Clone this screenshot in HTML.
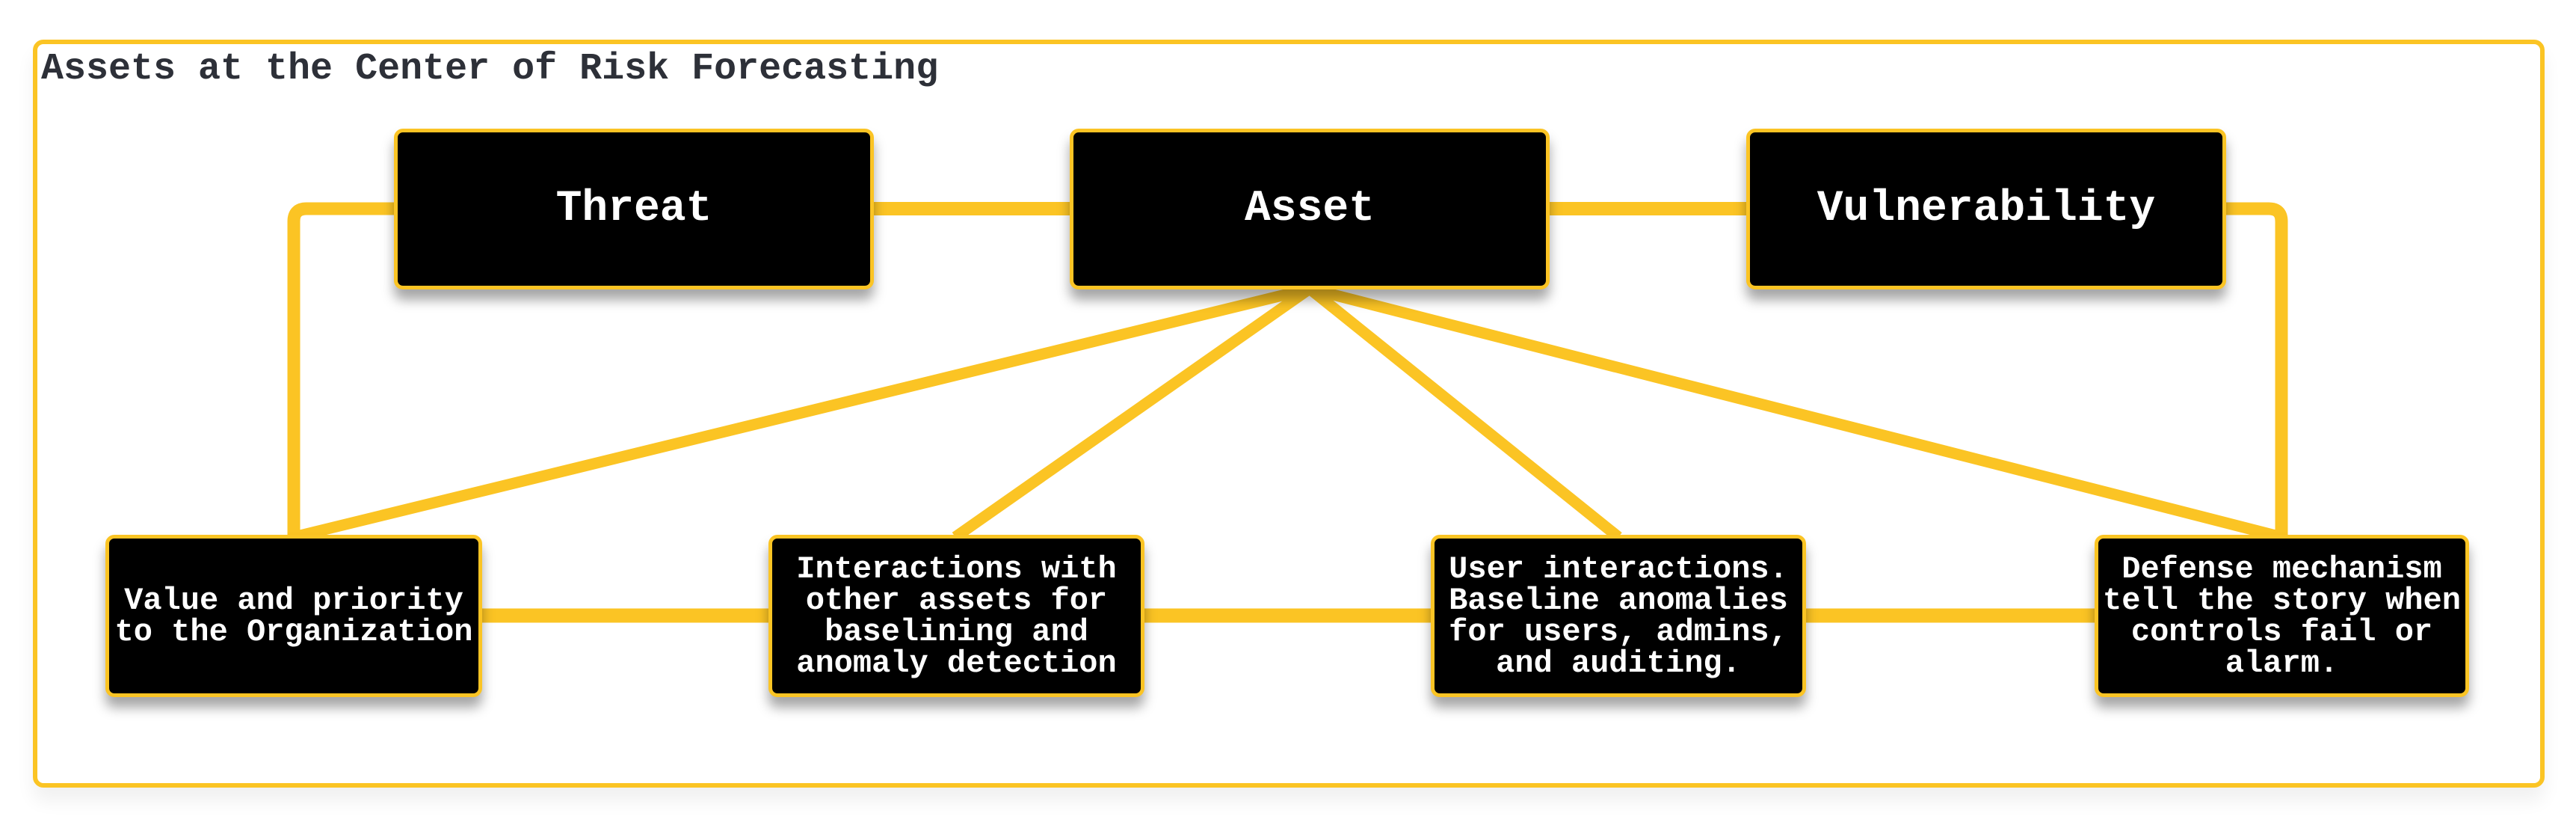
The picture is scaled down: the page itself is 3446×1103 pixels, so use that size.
<!DOCTYPE html>
<html><head><meta charset="utf-8"><style>
html,body{margin:0;padding:0;background:#fff;}
body{width:3446px;height:1103px;position:relative;overflow:hidden;font-family:"Liberation Mono",monospace;}
.frame{position:absolute;left:44px;top:53px;width:3348px;height:988px;border:6px solid #FBC424;border-radius:14px;box-shadow:0 18px 24px rgba(0,0,0,0.06);}
.title{position:absolute;left:55px;top:64px;font-size:50px;font-weight:bold;color:#2d3038;white-space:nowrap;}
svg{position:absolute;left:0;top:0;}
.box{position:absolute;background:#000;border:5px solid #FBC424;border-radius:12px;box-sizing:border-box;color:#fff;font-weight:bold;display:flex;align-items:center;justify-content:center;text-align:center;box-shadow:0 14px 16px rgba(0,0,0,0.35);}
.big{font-size:58px;}
.sm{font-size:42px;line-height:42px;padding:0 2px;white-space:nowrap;}
</style></head><body>
<div class="frame"></div>
<div class="title">Assets at the Center of Risk Forecasting</div>
<svg width="3446" height="1103" viewBox="0 0 3446 1103">
<g fill="none" stroke="#FBC424" stroke-linecap="butt" stroke-linejoin="round">
<path d="M527 279 L410 279 Q393 279 393 296 L393 718" stroke-width="17"/>
<path d="M1169 279 L1431 279" stroke-width="18"/>
<path d="M2073 279 L2336 279" stroke-width="18"/>
<path d="M2978 279 L3035 279 Q3052 279 3052 296 L3052 718" stroke-width="17"/>
<path d="M645 823 L1028 823" stroke-width="19"/>
<path d="M1531 823 L1914 823" stroke-width="19"/>
<path d="M2416 823 L2802 823" stroke-width="19"/>
<path d="M1752 386 L393 718" stroke-width="15"/>
<path d="M1752 386 L1278 718" stroke-width="15"/>
<path d="M1752 386 L2165 718" stroke-width="15"/>
<path d="M1752 386 L3052 718" stroke-width="15"/>
</g>
</svg>
<div class="box big" style="left:527px;top:172px;width:642px;height:215px;">Threat</div>
<div class="box big" style="left:1431px;top:172px;width:642px;height:215px;">Asset</div>
<div class="box big" style="left:2336px;top:172px;width:642px;height:215px;">Vulnerability</div>
<div class="box sm" style="left:141px;top:715px;width:504px;height:217px;">Value and priority<br>to the Organization</div>
<div class="box sm" style="left:1028px;top:715px;width:503px;height:217px;">Interactions with<br>other assets for<br>baselining and<br>anomaly detection</div>
<div class="box sm" style="left:1914px;top:715px;width:502px;height:217px;">User interactions.<br>Baseline anomalies<br>for users, admins,<br>and auditing.</div>
<div class="box sm" style="left:2802px;top:715px;width:501px;height:217px;">Defense mechanism<br>tell the story when<br>controls fail or<br>alarm.</div>
</body></html>
